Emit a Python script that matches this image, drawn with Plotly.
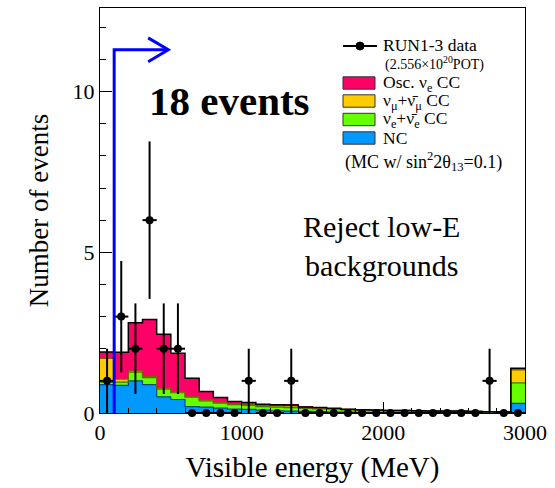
import plotly.graph_objects as go

# ---------------- data ----------------
bin_edges = [i * 100 for i in range(31)]          # MeV, 0..3000 (last bin = overflow)
bin_centers = [e + 50 for e in bin_edges[:-1]]

mc_nc = [0.88, 0.86, 1.00, 0.88, 0.50, 0.42, 0.20, 0.18, 0.15, 0.12,
         0.11, 0.09, 0.07, 0.06, 0.05, 0.04, 0.03, 0.03, 0.02, 0.02,
         0.02, 0.02, 0.01, 0.01, 0.01, 0.01, 0.01, 0.01, 0.01, 0.30]
mc_nue_bkg = [0.08, 0.10, 0.27, 0.22, 0.24, 0.21, 0.29, 0.20, 0.16, 0.14,
              0.13, 0.11, 0.11, 0.11, 0.09, 0.09, 0.09, 0.07, 0.06, 0.06,
              0.05, 0.05, 0.05, 0.04, 0.04, 0.04, 0.04, 0.03, 0.03, 0.64]
mc_numu = [0.74, 0.09, 0.04, 0.03, 0.03, 0.03, 0.02, 0.03, 0.02, 0.02,
           0.02, 0.03, 0.04, 0.05, 0.03, 0.02, 0.02, 0.01, 0.01, 0.01,
           0.01, 0.01, 0.01, 0.01, 0.01, 0.01, 0.00, 0.00, 0.00, 0.40]
mc_osc = [0.20, 0.84, 1.50, 1.78, 1.68, 1.20, 0.57, 0.26, 0.15, 0.08,
          0.07, 0.04, 0.04, 0.03, 0.02, 0.02, 0.01, 0.01, 0.01, 0.00,
          0.00, 0.00, 0.00, 0.00, 0.00, 0.00, 0.00, 0.00, 0.00, 0.05]

data_counts = [1, 3, 2, 6, 2, 2, 0, 0, 0, 0,
               1, 0, 0, 1, 0, 0, 0, 0, 0, 0,
               0, 0, 0, 0, 0, 0, 0, 1, 0, 0]
data_err_hi = [1.0, 1.73, 1.41, 2.45, 1.41, 1.41, 0, 0, 0, 0,
               1.0, 0, 0, 1.0, 0, 0, 0, 0, 0, 0,
               0, 0, 0, 0, 0, 0, 0, 1.0, 0, 0]
data_err_lo = [1.0, 1.73, 1.41, 2.45, 1.41, 1.41, 0, 0, 0, 0,
               1.0, 0, 0, 1.0, 0, 0, 0, 0, 0, 0,
               0, 0, 0, 0, 0, 0, 0, 1.0, 0, 0]

cut_energy = 100      # MeV, low-E rejection
n_events_text = "18 events"

x_ticks = [0, 1000, 2000, 3000]
y_ticks = [0, 5, 10]

# ---------------- style ----------------
FONT = "Liberation Serif"
C_OSC, C_NUMU, C_NUE, C_NC = "#ff0066", "#ffcc00", "#66ff00", "#0099ff"
L_OSC, L_NUMU, L_NUE, L_NC = "#7a0030", "#806000", "#2f7a00", "#004d80"

fig = go.Figure()

components = [(mc_nc, C_NC), (mc_nue_bkg, C_NUE), (mc_numu, C_NUMU), (mc_osc, C_OSC)]
for vals, col in components:
    fig.add_trace(go.Bar(x=bin_centers, y=vals, width=100, marker=dict(color=col, line=dict(width=0)),
                         showlegend=False, hoverinfo="skip"))

# step outlines on cumulative levels
cum = [0.0] * len(bin_centers)
outline_cols = [L_NC, L_NUE, L_NUMU, "black"]
for (vals, _), lc in zip(components, outline_cols):
    cum = [c + v for c, v in zip(cum, vals)]
    fig.add_trace(go.Scatter(x=bin_edges, y=cum + [cum[-1]], mode="lines",
                             line=dict(shape="hv", color=lc, width=1.2 if lc != "black" else 1.5),
                             showlegend=False, hoverinfo="skip"))

# data points
fig.add_trace(go.Scatter(
    x=bin_centers, y=data_counts, mode="markers",
    marker=dict(color="black", size=8, symbol="circle"),
    error_y=dict(type="data", symmetric=False, array=data_err_hi, arrayminus=data_err_lo,
                 color="black", thickness=2, width=0),
    error_x=dict(type="constant", value=50, color="black", thickness=2, width=0),
    cliponaxis=False, showlegend=False, hoverinfo="skip"))

# low-E cut arrow
fig.add_shape(type="path", xref="x", yref="y",
              path=f"M {cut_energy},0 L {cut_energy},11.3 L 480,11.3",
              line=dict(color="#0000ff", width=3))
fig.add_shape(type="path", xref="x", yref="y",
              path="M 340,11.67 L 482,11.3 L 340,10.93",
              line=dict(color="#0000ff", width=3))

# ---------------- pixel helpers for legend/text ----------------
PL, PR, PT, PB = 100, 525, 8, 413
def px(x): return (x - PL) / (PR - PL)
def py(y): return (PB - y) / (PB - PT)

fig.add_annotation(x=px(147), y=py(101), xref="paper", yref="paper", xanchor="left", yanchor="middle",
                   text=f"<b>{n_events_text}</b>", showarrow=False,
                   font=dict(family=FONT, size=41, color="black"))
fig.add_annotation(x=px(381), y=py(246), xref="paper", yref="paper", xanchor="center", yanchor="middle",
                   text="Reject low-E<br>backgrounds", showarrow=False, align="center",
                   font=dict(family=FONT, size=30, color="black"))

# legend
LF = 17.5
fig.add_shape(type="line", xref="paper", yref="paper", x0=px(343), x1=px(377), y0=py(46), y1=py(46),
              line=dict(color="black", width=2))
fig.add_shape(type="circle", xref="paper", yref="paper", x0=px(356), x1=px(364), y0=py(42), y1=py(50),
              fillcolor="black", line=dict(color="black", width=1))
fig.add_annotation(x=px(381), y=py(45), xref="paper", yref="paper", xanchor="left", yanchor="middle",
                   text="RUN1-3 data", showarrow=False, font=dict(family=FONT, size=LF, color="black"))
fig.add_annotation(x=px(383), y=py(63), xref="paper", yref="paper", xanchor="left", yanchor="middle",
                   text="(2.556×10<sup>20</sup>POT)", showarrow=False, font=dict(family=FONT, size=14, color="black"))

legend_rows = [
    (83, C_OSC, "Osc. ν<sub>e</sub> CC"),
    (101, C_NUMU, "ν<sub>μ</sub>+ν̄<sub>μ</sub> CC"),
    (119.5, C_NUE, "ν<sub>e</sub>+ν̄<sub>e</sub> CC"),
    (138, C_NC, "NC"),
]
for yc, col, txt in legend_rows:
    fig.add_shape(type="rect", xref="paper", yref="paper", x0=px(343), x1=px(375),
                  y0=py(yc - 6.2), y1=py(yc + 6.2), fillcolor=col, line=dict(color="#333333", width=1))
    fig.add_annotation(x=px(381), y=py(yc), xref="paper", yref="paper", xanchor="left", yanchor="middle",
                       text=txt, showarrow=False, font=dict(family=FONT, size=LF, color="black"))
fig.add_annotation(x=px(343), y=py(161), xref="paper", yref="paper", xanchor="left", yanchor="middle",
                   text="(MC w/ sin<sup>2</sup>2θ<sub>13</sub>=0.1)", showarrow=False,
                   font=dict(family=FONT, size=LF + 0.5, color="black"))

fig.update_layout(
    width=555, height=488, barmode="stack", bargap=0,
    margin=dict(l=PL, r=555 - PR, t=PT, b=488 - PB),
    paper_bgcolor="white", plot_bgcolor="white",
    font=dict(family=FONT, color="black"),
)
fig.update_xaxes(range=[0, 3000], tickvals=x_ticks, ticktext=[str(v) for v in x_ticks],
                 ticks="inside", ticklen=11, tickwidth=1, tickcolor="black",
                 minor=dict(dtick=200, ticks="inside", ticklen=5, tickcolor="black"),
                 showline=True, linecolor="black", linewidth=1, mirror=True,
                 showgrid=False, zeroline=False, tickfont=dict(family=FONT, size=22),
                 title=dict(text="Visible energy (MeV)", font=dict(family=FONT, size=29), standoff=12))
fig.update_yaxes(range=[0, 12.6], tickvals=y_ticks, ticktext=[str(v) for v in y_ticks],
                 ticks="inside", ticklen=12, tickwidth=1, tickcolor="black",
                 minor=dict(dtick=1, ticks="inside", ticklen=6, tickcolor="black"),
                 showline=True, linecolor="black", linewidth=1, mirror=True,
                 showgrid=False, zeroline=False, tickfont=dict(family=FONT, size=22),
                 title=dict(text="Number of events", font=dict(family=FONT, size=27), standoff=16))

fig.write_html("out.html")
